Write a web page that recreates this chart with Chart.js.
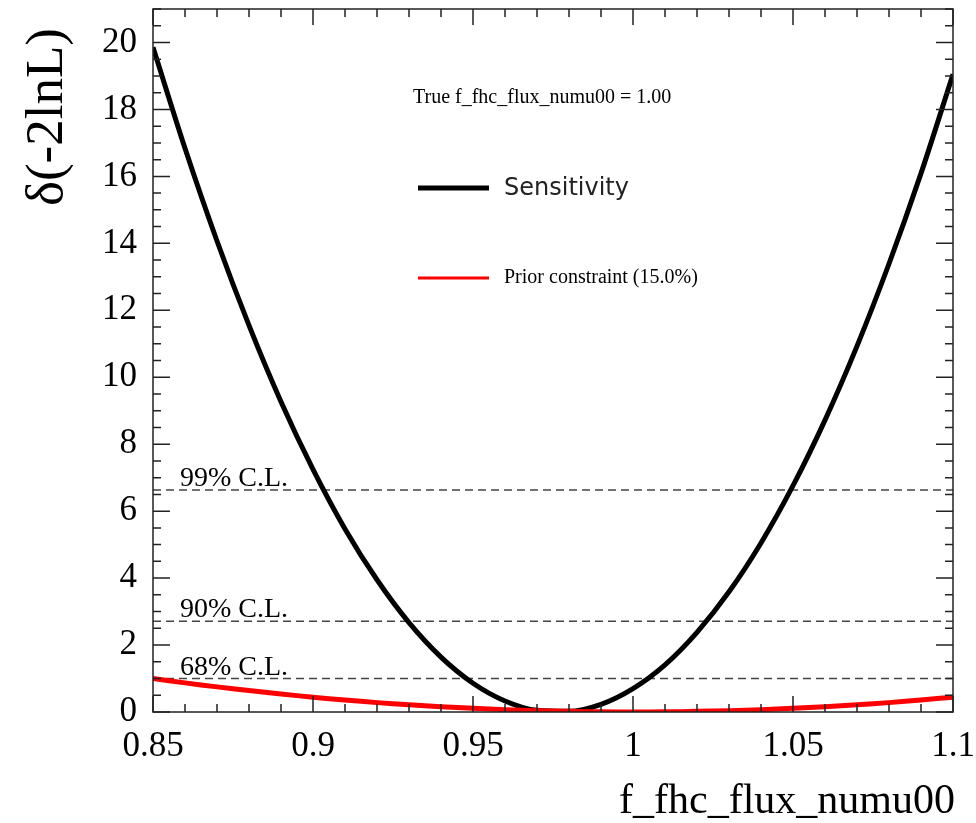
<!DOCTYPE html>
<html>
<head>
<meta charset="utf-8">
<script src="https://cdn.jsdelivr.net/npm/chart.js@4.4.1/dist/chart.umd.min.js"></script>
<style>
  body { margin: 0; background: #fff; }
  #wrap { width: 976px; height: 823px; }
</style>
</head>
<body>
<div id="wrap"><canvas id="myChart"></canvas></div>
<script>
// parameter scan points
const xValues = [0.85, 0.86, 0.87, 0.88, 0.89, 0.90, 0.91, 0.92, 0.93, 0.94, 0.95, 0.96, 0.97,
                 0.98, 0.99, 1.00, 1.01, 1.02, 1.03, 1.04, 1.05, 1.06, 1.07, 1.08, 1.09, 1.10];
// delta(-2lnL)
const sensitivity = [19.86, 16.84, 14.07, 11.55, 9.27, 7.25, 5.47, 3.95, 2.67, 1.64, 0.86, 0.33, 0.05,
                     0.02, 0.23, 0.70, 1.41, 2.38, 3.59, 5.05, 6.76, 8.72, 10.93, 13.39, 16.09, 19.05];
// red curve, prior constraint 15%
const prior = [1.00, 0.87, 0.75, 0.64, 0.54, 0.44, 0.36, 0.28, 0.22, 0.16, 0.11, 0.07, 0.04,
               0.02, 0.004, 0.0, 0.004, 0.02, 0.04, 0.07, 0.11, 0.16, 0.22, 0.28, 0.36, 0.44];
// confidence level lines
const clLabels = ['99% C.L.', '90% C.L.', '68% C.L.'];
const clValues = [6.63, 2.71, 1.0];

const xMin = 0.85, xMax = 1.1, yMin = 0, yMax = 21;
const serif = "'Liberation Serif', 'Times New Roman', serif";

function pts(ys) {
  return xValues.map((x, i) => ({ x: x, y: ys[i] }));
}

let datasets = [
  {
    label: 'Prior constraint (15.0%)',
    data: pts(prior),
    borderColor: '#ff0000',
    borderWidth: 5,
    pointRadius: 0,
    tension: 0.3,
    order: 1
  },
  {
    label: 'Sensitivity',
    data: pts(sensitivity),
    borderColor: '#000000',
    borderWidth: 5,
    pointRadius: 0,
    cubicInterpolationMode: 'monotone',
    order: 2
  }
];
clValues.forEach((v, i) => {
  datasets.push({
    label: clLabels[i],
    data: [{ x: xMin, y: v }, { x: xMax, y: v }],
    borderColor: '#444',
    borderWidth: 1.5,
    borderDash: [8, 5],
    pointRadius: 0,
    order: 3
  });
});

// ROOT-style frame, inward ticks and free text
const rootStyle = {
  id: 'rootStyle',
  afterDraw(chart) {
    const ctx = chart.ctx;
    const a = chart.chartArea;
    const xs = chart.scales.x, ys = chart.scales.y;
    ctx.save();
    ctx.strokeStyle = '#222';
    ctx.lineWidth = 1.5;
    ctx.strokeRect(a.left, a.top, a.right - a.left, a.bottom - a.top);

    ctx.beginPath();
    for (let i = 0; i <= 25; i++) {
      const px = xs.getPixelForValue(xMin + i * 0.01);
      const len = i % 5 === 0 ? 16 : 8;
      ctx.moveTo(px, a.bottom); ctx.lineTo(px, a.bottom - len);
      ctx.moveTo(px, a.top); ctx.lineTo(px, a.top + len);
    }
    for (let i = 0; i <= 42; i++) {
      const py = ys.getPixelForValue(i * 0.5);
      const len = i % 4 === 0 ? 17 : 8;
      ctx.moveTo(a.left, py); ctx.lineTo(a.left + len, py);
      ctx.moveTo(a.right, py); ctx.lineTo(a.right - len, py);
    }
    ctx.stroke();

    // C.L. labels
    ctx.fillStyle = '#000';
    ctx.font = '28px ' + serif;
    ctx.textAlign = 'left';
    ctx.textBaseline = 'alphabetic';
    clValues.forEach((v, i) => {
      ctx.fillText(clLabels[i], xs.getPixelForValue(0.8584), ys.getPixelForValue(v) - 4);
    });

    // text box and legend
    ctx.font = '20px ' + serif;
    ctx.textBaseline = 'middle';
    ctx.fillText('True f_fhc_flux_numu00 = 1.00', 413, 98);

    ctx.lineWidth = 5;
    ctx.strokeStyle = '#000';
    ctx.beginPath(); ctx.moveTo(418, 188); ctx.lineTo(489, 188); ctx.stroke();
    ctx.font = "24px 'DejaVu Sans', sans-serif";
    ctx.fillStyle = '#222';
    ctx.fillText('Sensitivity', 504, 189);

    ctx.lineWidth = 3;
    ctx.strokeStyle = '#ff0000';
    ctx.beginPath(); ctx.moveTo(418, 278); ctx.lineTo(489, 278); ctx.stroke();
    ctx.font = '20px ' + serif;
    ctx.fillStyle = '#000';
    ctx.fillText('Prior constraint (15.0%)', 504, 278);

    // axis titles
    ctx.font = '42px ' + serif;
    ctx.textAlign = 'right';
    ctx.textBaseline = 'alphabetic';
    ctx.fillText('f_fhc_flux_numu00', 955, 813);

    ctx.translate(62, 28);
    ctx.rotate(-Math.PI / 2);
    ctx.font = '53px ' + serif;
    ctx.textAlign = 'right';
    ctx.fillText('δ(-2lnL)', 0, 0);
    ctx.restore();
  }
};

let chartCanvas = document.getElementById('myChart');
let myChart = new Chart(chartCanvas, {
  type: 'line',
  data: { datasets: datasets },
  options: {
    responsive: true,
    maintainAspectRatio: false,
    animation: false,
    layout: { padding: { top: 9, right: 23, left: 0, bottom: 0 } },
    plugins: { legend: { display: false }, tooltip: { enabled: false } },
    scales: {
      x: {
        type: 'linear',
        min: xMin,
        max: xMax,
        grid: { display: false, drawTicks: false },
        border: { display: false },
        ticks: {
          stepSize: 0.05,
          includeBounds: false,
          padding: 14,
          color: '#000',
          maxRotation: 0,
          autoSkip: false,
          font: { family: serif, size: 35 },
          callback: v => String(Number(v.toFixed(2)))
        },
        afterFit: s => {
          s.height = 111;
          s.paddingLeft = 0; s.paddingRight = 0;
        }
      },
      y: {
        type: 'linear',
        min: yMin,
        max: yMax,
        grid: { display: false, drawTicks: false },
        border: { display: false },
        ticks: {
          stepSize: 2,
          includeBounds: false,
          padding: 16,
          color: '#000',
          autoSkip: false,
          font: { family: serif, size: 35 }
        },
        afterFit: s => {
          s.width = 153;
          s.paddingTop = 0; s.paddingBottom = 0;
        }
      }
    }
  },
  plugins: [rootStyle]
});
</script>
</body>
</html>
